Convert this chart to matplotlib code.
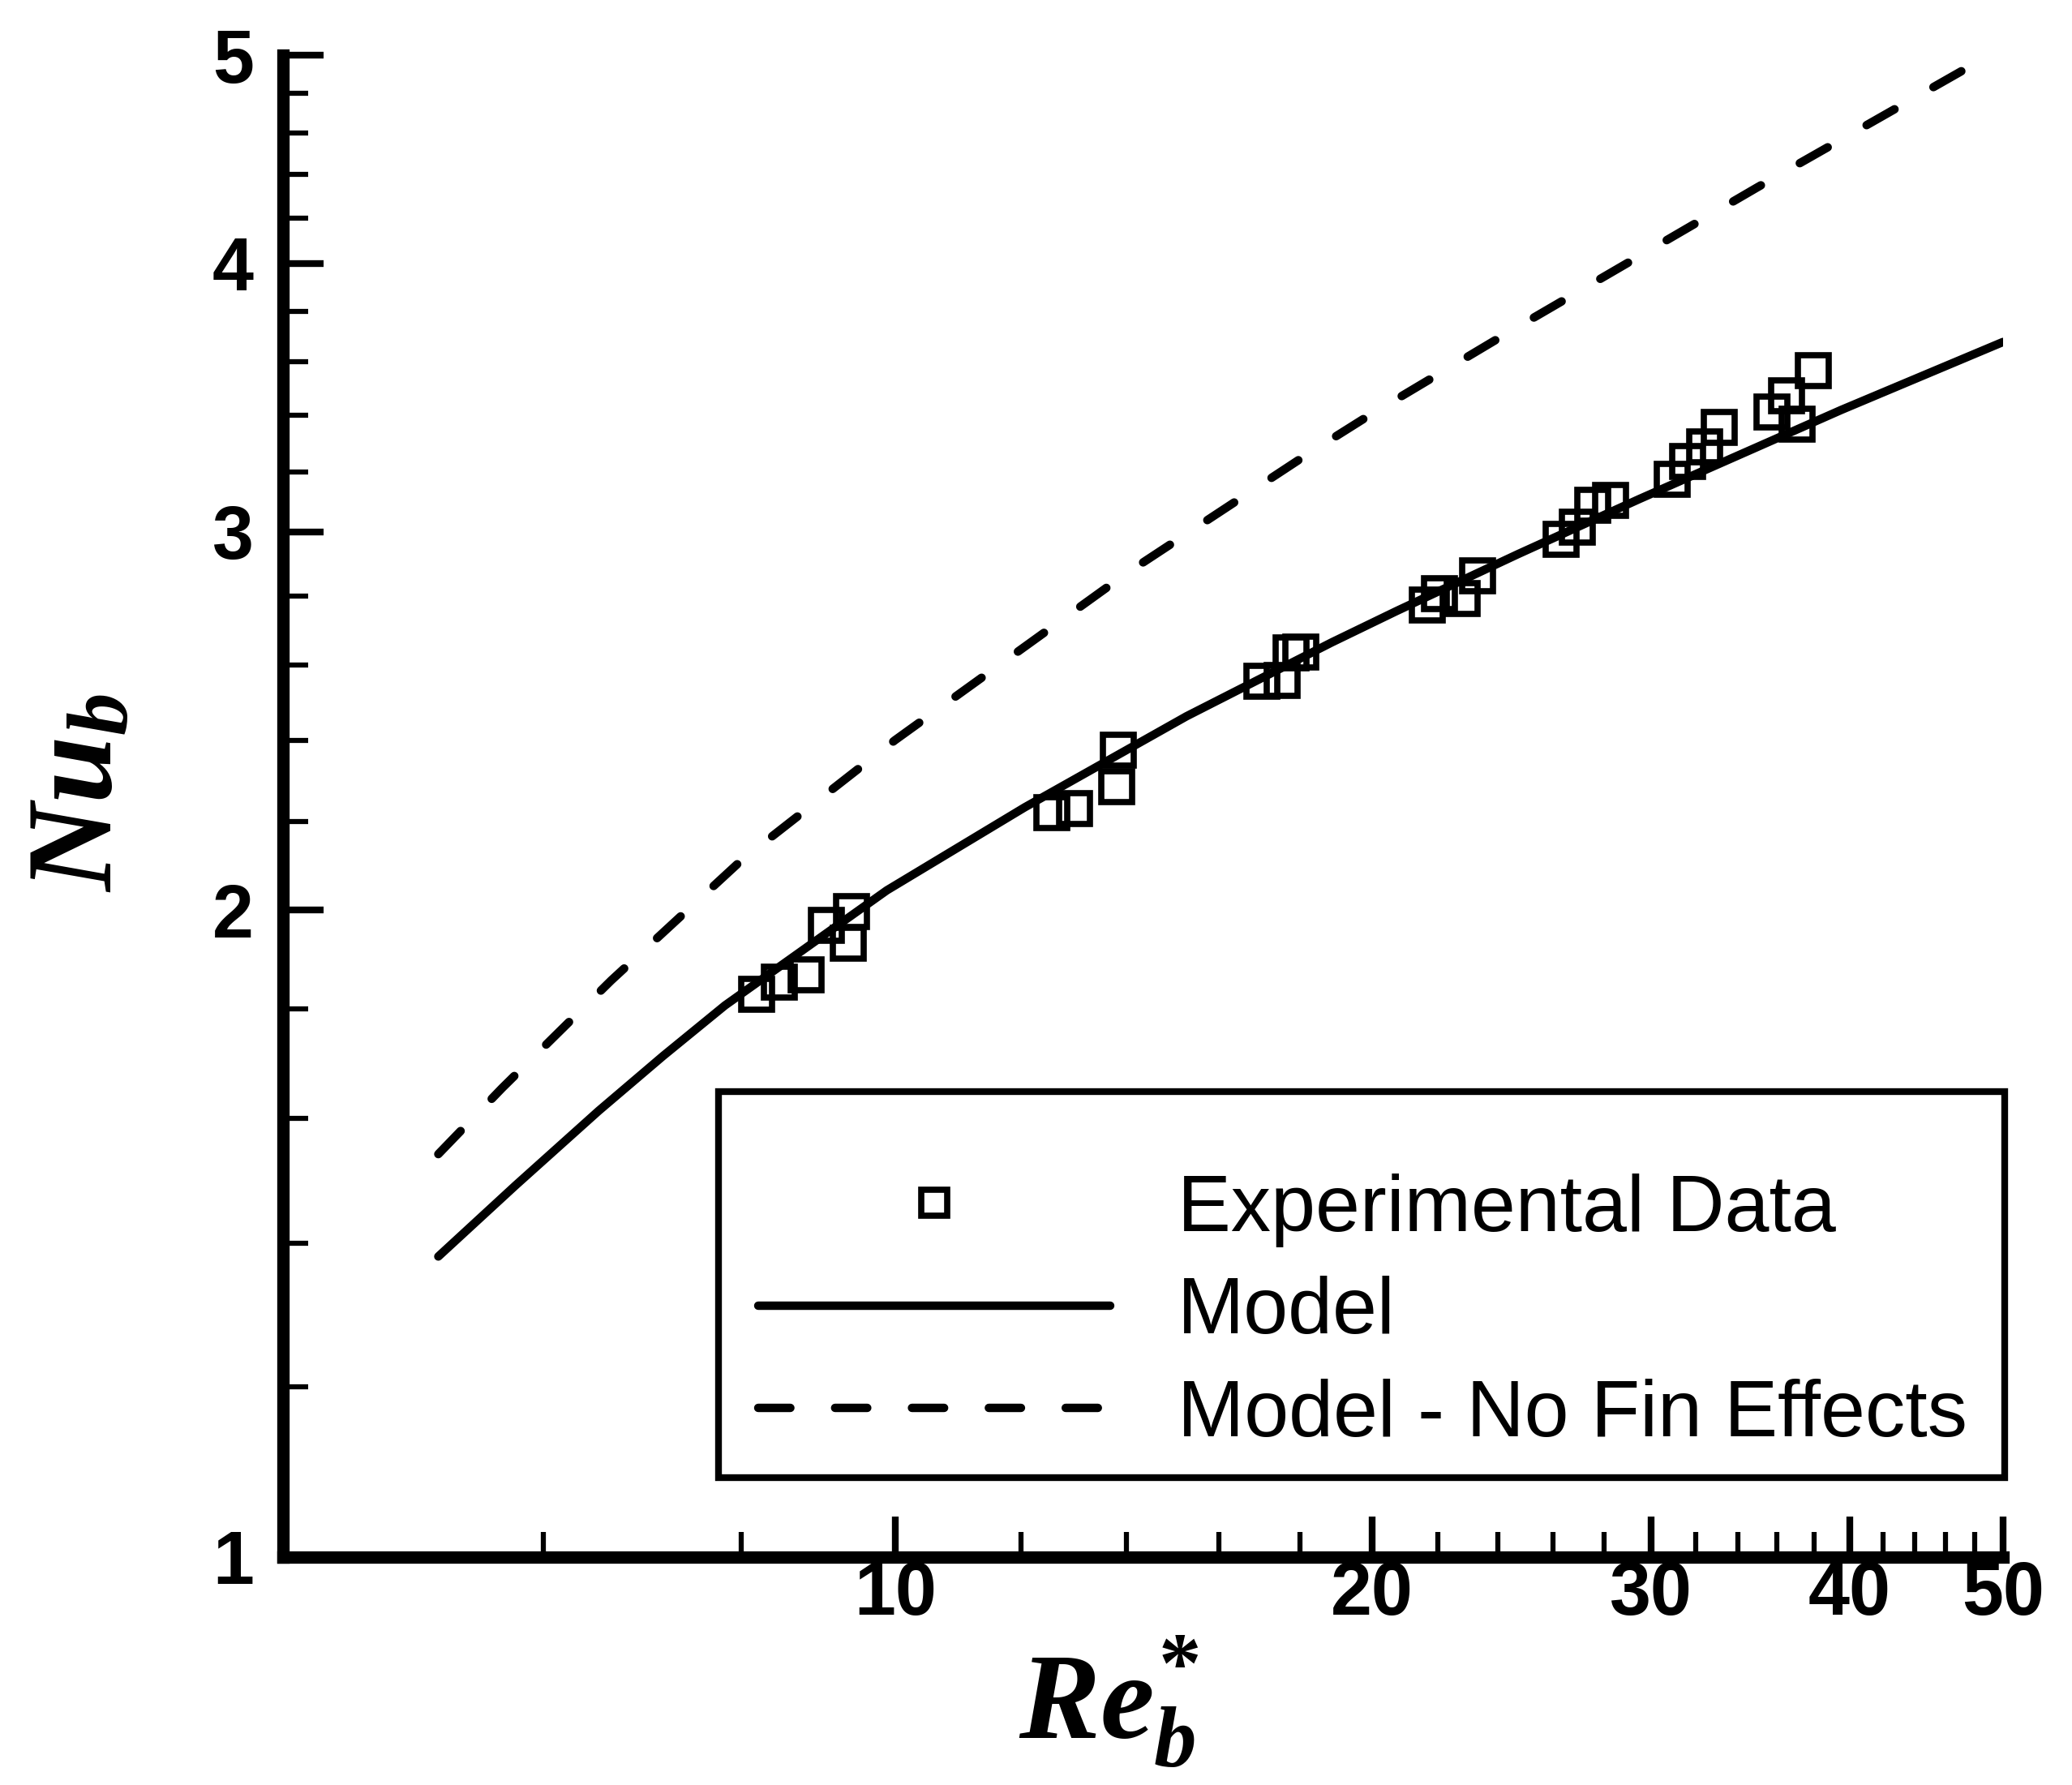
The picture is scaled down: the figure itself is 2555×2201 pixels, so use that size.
import matplotlib
matplotlib.use('Agg')
import matplotlib.pyplot as plt
from matplotlib.ticker import FixedLocator, NullFormatter
from matplotlib.patches import Rectangle

plt.rcParams['font.family'] = ['Liberation Sans', 'DejaVu Sans']
plt.rcParams['mathtext.fontset'] = 'custom'
plt.rcParams['mathtext.it'] = 'Liberation Serif:italic:bold'
plt.rcParams['mathtext.rm'] = 'Liberation Serif:bold'
plt.rcParams['mathtext.bf'] = 'Liberation Serif:bold'

# experimental points (Re_b*, Nu_b)
re_exp = [8.18, 8.45, 8.79, 9.05, 9.39, 9.34,
          12.55, 12.98, 13.83, 13.80,
          17.03, 17.54, 17.78, 18.03,
          21.67, 22.06, 22.79, 23.30,
          26.31, 26.95, 27.54, 28.28,
          30.92, 31.62, 32.40, 33.12,
          35.74, 36.50, 37.06, 37.96]
nu_exp = [1.828, 1.851, 1.866, 1.967, 1.998, 1.930,
          2.221, 2.231, 2.374, 2.283,
          2.556, 2.559, 2.635, 2.637,
          2.773, 2.808, 2.792, 2.861,
          2.976, 3.015, 3.086, 3.104,
          3.174, 3.234, 3.287, 3.354,
          3.410, 3.472, 3.366, 3.566]

# model curve
re_model = [5.15, 5.76, 6.50, 7.14, 7.81, 9.88, 12.07, 15.27, 18.86, 20.72, 24.71, 29.47, 39.54, 50.0]
nu_model = [1.380, 1.489, 1.613, 1.711, 1.806, 2.043, 2.233, 2.462, 2.665, 2.756, 2.929, 3.107, 3.419, 3.677]

# model without fin effects
re_nofin = [5.15, 5.65, 6.62, 8.0, 10.0, 14.0, 18.2, 19.8, 24.3, 35.0, 48.8]
nu_nofin = [1.54, 1.653, 1.855, 2.11, 2.40, 2.87, 3.26, 3.39, 3.71, 4.34, 4.99]

x_major = [10, 20, 30, 40, 50]
x_minor = [6, 8, 12, 14, 16, 18, 22, 24, 26, 28, 32, 34, 36, 38, 42, 44, 46, 48]
y_major = [1, 2, 3, 4, 5]
y_minor = [1.2, 1.4, 1.6, 1.8, 2.2, 2.4, 2.6, 2.8, 3.2, 3.4, 3.6, 3.8, 4.2, 4.4, 4.6, 4.8]

fig = plt.figure(figsize=(25.55, 22.01), dpi=100)
ax = fig.add_axes([0.1366, 0.1277, 0.9667 - 0.1366, 0.9691 - 0.1277])

lw = 7.5
ax.plot(re_model, nu_model, color='black', lw=lw, solid_capstyle='round',
        solid_joinstyle='round', label='Model', zorder=2)
ax.plot(re_nofin, nu_nofin, color='black', lw=lw, dashes=(3.8, 5.3), dash_capstyle='round',
        label='Model - No Fin Effects', zorder=2)
ax.plot(re_exp, nu_exp, ls='none', marker='s', ms=27, mfc='none', mec='black', mew=5.5,
        label='Experimental Data', zorder=3)

ax.set_xscale('log'); ax.set_yscale('log')
ax.set_xlim(4.11, 50); ax.set_ylim(1, 5)

ax.xaxis.set_major_locator(FixedLocator(x_major))
ax.xaxis.set_minor_locator(FixedLocator(x_minor))
ax.yaxis.set_major_locator(FixedLocator(y_major))
ax.yaxis.set_minor_locator(FixedLocator(y_minor))
ax.set_xticks(x_major, [str(v) for v in x_major], fontweight='bold')
ax.set_yticks(y_major, [str(v) for v in y_major], fontweight='bold')
ax.xaxis.set_minor_formatter(NullFormatter())
ax.yaxis.set_minor_formatter(NullFormatter())
ax.tick_params(which='major', direction='in', length=36, width=6, labelsize=66)
ax.tick_params(axis='x', which='major', pad=3)
ax.tick_params(axis='y', which='major', pad=26)
ax.tick_params(which='minor', direction='in', length=22, width=4.5)

for s in ('top', 'right'):
    ax.spines[s].set_visible(False)
for s in ('left', 'bottom'):
    ax.spines[s].set_linewidth(11)

ax.set_xlabel(r'$Re_b^{*}$', fontsize=108)
ax.set_ylabel(r'$Nu_b$', fontsize=108)
ax.xaxis.set_label_coords(0.48, -0.051)
ax.yaxis.set_label_coords(-0.085, 0.509)

# legend: frame drawn separately so the padding matches the original box
ax.add_patch(Rectangle((0.253, 0.053), 0.748, 0.257, transform=ax.transAxes,
                       fill=True, facecolor='white', edgecolor='black', lw=6,
                       clip_on=False, zorder=4))
h, l = ax.get_legend_handles_labels()
order = [2, 0, 1]
leg = ax.legend([h[i] for i in order], [l[i] for i in order], loc='upper left',
                bbox_to_anchor=(0.253, 0.282), frameon=False, fontsize=71,
                handlelength=4.4, handletextpad=0.84, labelspacing=0.36,
                borderpad=0, markerscale=0.85)
leg.set_zorder(5)

fig.savefig('out.png', dpi=100)
